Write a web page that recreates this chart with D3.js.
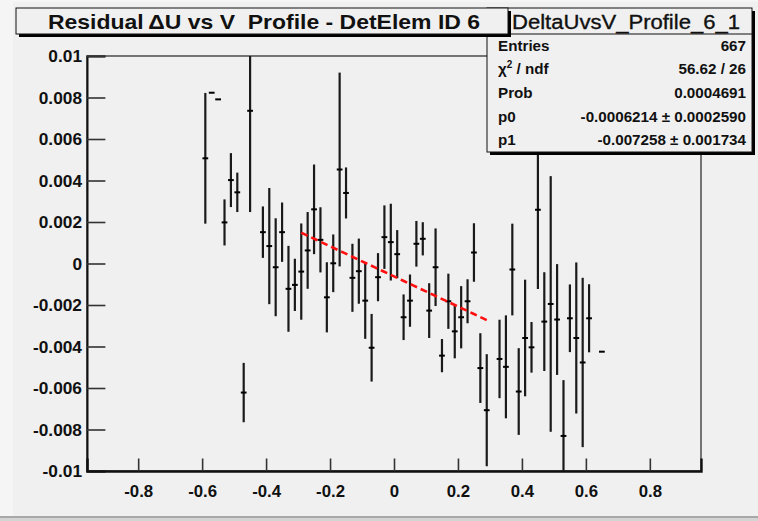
<!DOCTYPE html>
<html><head><meta charset="utf-8">
<script src="https://cdn.jsdelivr.net/npm/d3@7"></script>
<style>
html,body{margin:0;padding:0;background:#f0f0f0;}
svg{display:block;font-family:"Liberation Sans",Arial,Helvetica,sans-serif;}
</style></head>
<body>
<script>
// ---- data (bin centres, profile means, errors) ----
const binCenters = [-0.59,-0.57,-0.55,-0.53,-0.51,-0.49,-0.47,-0.45,-0.41,-0.39,-0.37,-0.35,-0.33,-0.31,-0.29,-0.27,-0.25,-0.23,-0.21,-0.19,-0.17,-0.15,-0.13,-0.11,-0.09,-0.07,-0.05,-0.03,-0.01,0.01,0.03,0.05,0.07,0.09,0.11,0.13,0.15,0.17,0.19,0.21,0.23,0.25,0.27,0.29,0.33,0.35,0.37,0.39,0.41,0.43,0.45,0.47,0.49,0.51,0.53,0.55,0.57,0.59,0.61,0.65];
const meanValues = [0.00507,0.00823,0.00791,0.00198,0.00402,0.00343,-0.00622,0.00736,0.00151,0.00084,-0.00018,0.00151,-0.00122,-0.00103,-0.00039,0.00063,0.00261,0.00114,-0.00163,0.00001,0.00453,0.0034,-0.00069,-0.00037,-0.00179,-0.00406,-0.00066,0.00127,0.00103,0.00045,-0.00259,-0.00179,0.00095,0.00119,-0.00227,-0.00018,-0.00444,-0.00182,-0.00327,-0.00259,-0.00182,0.00053,-0.00504,-0.00707,-0.0046,-0.00498,-0.00029,-0.00617,-0.00359,-0.00404,0.00259,-0.0028,-0.00195,-0.0027,-0.00831,-0.00264,-0.00359,-0.00477,-0.00264,-0.00425];
const errValues = [0.00315,0,0,0.00111,0.0013,0.00095,0.00143,0.00488,0.00124,0.0028,0.00236,0.00143,0.00207,0.00126,0.00232,0.00185,0.00216,0.00157,0.00169,0.00139,0.00467,0.00123,0.00164,0.00157,0.00184,0.00163,0.00116,0.00153,0.00185,0.00116,0.0011,0.00126,0.0011,0.0008,0.00132,0.00187,0.0008,0.00133,0.0013,0.0015,0.00106,0.00141,0.00168,0.0027,0.00189,0.00248,0.00221,0.00209,0.00281,0.00122,0.00382,0.00238,0.00616,0.00267,0.00269,0.00163,0.00364,0.00408,0.00164,0];
const binWidth = 0.02;
// fit: p0 + p1*x over [-0.29, 0.29]
const fitP0 = -0.0006214, fitP1 = -0.007258;
const fitRange = [-0.29, 0.29];

const xTickValues = [-0.8,-0.6,-0.4,-0.2,0,0.2,0.4,0.6,0.8];
const xTickLabels = ["-0.8","-0.6","-0.4","-0.2","0","0.2","0.4","0.6","0.8"];
const yTickValues = [0.01,0.008,0.006,0.004,0.002,0,-0.002,-0.004,-0.006,-0.008,-0.01];
const yTickLabels = ["0.01","0.008","0.006","0.004","0.002","0","-0.002","-0.004","-0.006","-0.008","-0.01"];

const titleText = "Residual\u2009\u0394U vs V  Profile - DetElem ID 6";
const statsTitle = "DeltaUvsV_Profile_6_1";
const statsLabels = ["Entries","chi2","Prob","p0","p1"];
const statsValues = ["667","56.62 / 26","0.0004691","-0.0006214 \u00b1 0.0002590","-0.007258 \u00b1 0.001734"];

// ---- drawing ----
const W = 758, H = 521;
const svg = d3.select("body").append("svg").attr("width", W).attr("height", H);

svg.append("rect").attr("x",0).attr("y",0).attr("width",W).attr("height",H).attr("fill","#f5f5f5");
svg.append("rect").attr("x",13).attr("y",2).attr("width",W-13).attr("height",514).attr("fill","#f0f0f0");
svg.append("rect").attr("x",0).attr("y",516).attr("width",W).attr("height",2).attr("fill","#a8a8a8");
svg.append("rect").attr("x",0).attr("y",518).attr("width",W).attr("height",3).attr("fill","#d4d4d4");

const x = d3.scaleLinear().domain([-0.96, 0.96]).range([87, 701]);
const y = d3.scaleLinear().domain([-0.01, 0.01]).range([471, 56]);

svg.append("clipPath").attr("id","plotclip").append("rect")
  .attr("x",87).attr("y",56).attr("width",614).attr("height",415);

// frame
svg.append("rect").attr("x",87).attr("y",56).attr("width",614).attr("height",415)
  .attr("fill","none").attr("stroke","#222").attr("stroke-width",1.2);

// axes
const fmtY = d => yTickLabels[yTickValues.indexOf(d)];
const fmtX = d => xTickLabels[xTickValues.indexOf(d)];
const yMinor = d3.range(-0.01, 0.01001, 0.0005).map(v => +v.toFixed(5));
const xMinor = d3.range(-0.95, 0.9501, 0.05).map(v => +v.toFixed(3));

const gy = svg.append("g").attr("transform","translate(87,0)");
gy.call(d3.axisLeft(y).tickValues(yMinor).tickSize(-9).tickFormat(""));
gy.call(d3.axisLeft(y).tickValues(yTickValues).tickSize(-18.4).tickPadding(5).tickFormat(fmtY));
gy.selectAll("path.domain").attr("stroke","#111").attr("stroke-width",2);
gy.selectAll("line").attr("stroke","#333").attr("stroke-width",1.6);
gy.selectAll("text").attr("font-size",17.3).attr("font-weight","bold").attr("fill","#111");

const gx = svg.append("g").attr("transform","translate(0,471)");
gx.call(d3.axisBottom(x).tickValues(xMinor).tickSize(-6.3).tickFormat(""));
gx.call(d3.axisBottom(x).tickValues(xTickValues).tickSize(-12.5).tickPadding(14).tickFormat(fmtX));
gx.selectAll("path.domain").attr("stroke","#111").attr("stroke-width",2.4);
gx.selectAll("line").attr("stroke","#333").attr("stroke-width",1.6);
gx.selectAll("text").attr("font-size",16.8).attr("font-weight","bold").attr("fill","#111");

// data
const data = binCenters.map((c,i)=>({x:c, m:meanValues[i], e:errValues[i]}));
const gd = svg.append("g").attr("clip-path","url(#plotclip)");
gd.selectAll("line.err").data(data.filter(d=>d.e>0)).join("line").attr("class","err")
  .attr("x1",d=>x(d.x)).attr("x2",d=>x(d.x))
  .attr("y1",d=>y(d.m+d.e)).attr("y2",d=>y(d.m-d.e))
  .attr("stroke","#1a1a1a").attr("stroke-width",2.2);
gd.selectAll("line.mk").data(data).join("line").attr("class","mk")
  .attr("x1",d=>x(d.x-binWidth*0.45)).attr("x2",d=>x(d.x+binWidth*0.45))
  .attr("y1",d=>y(d.m)).attr("y2",d=>y(d.m))
  .attr("stroke","#000").attr("stroke-width",2);

// fit line
const fitPts = d3.range(0, 41).map(i => {
  const xv = fitRange[0] + (fitRange[1]-fitRange[0])*i/40;
  return [xv, fitP0 + fitP1*xv];
});
gd.append("path").attr("d", d3.line().x(d=>x(d[0])).y(d=>y(d[1]))(fitPts))
  .attr("fill","none").attr("stroke","#ff1010").attr("stroke-width",2.6)
  .attr("stroke-dasharray","7,4");

// stats box
const sx = 487, sy = 8, sw = 265, sh = 144;
svg.append("rect").attr("x",sx+3).attr("y",sy+3).attr("width",sw).attr("height",sh).attr("fill","#000");
svg.append("rect").attr("x",sx).attr("y",sy).attr("width",sw).attr("height",sh)
  .attr("fill","#f0f0f0").attr("stroke","#111").attr("stroke-width",1);
svg.append("line").attr("x1",sx).attr("x2",sx+sw).attr("y1",34).attr("y2",34).attr("stroke","#111").attr("stroke-width",1);
svg.append("text").attr("x",512).attr("y",29)
  .attr("font-size",20.5).attr("fill","#111").attr("stroke","#111").attr("stroke-width",0.35)
  .attr("textLength",228).attr("lengthAdjust","spacingAndGlyphs").text(statsTitle);
const rowH = (sy+sh-34)/5;
statsLabels.forEach((lab,i)=>{
  const ty = 34 + rowH*(i+0.5) + 5;
  const t = svg.append("text").attr("x",498).attr("y",ty).attr("font-size",15.2).attr("font-weight","bold").attr("fill","#111");
  if (lab === "chi2") {
    t.append("tspan").text("\u03c7");
    t.append("tspan").attr("dy",-6).attr("font-size",10).text("2");
    t.append("tspan").attr("dy",6).text(" / ndf");
  } else t.text(lab);
  svg.append("text").attr("x",746).attr("y",ty).attr("text-anchor","end")
    .attr("font-size",15.2).attr("font-weight","bold").attr("fill","#111").text(statsValues[i]);
});

// title box
const tx = 16, ty0 = 8, tw = 492, th = 26;
svg.append("rect").attr("x",tx+3).attr("y",ty0+3).attr("width",tw).attr("height",th).attr("fill","#000");
svg.append("rect").attr("x",tx).attr("y",ty0).attr("width",tw).attr("height",th)
  .attr("fill","#f0f0f0").attr("stroke","#111").attr("stroke-width",1);
svg.append("text").attr("x",48).attr("y",29)
  .attr("font-size",21).attr("font-weight","bold").attr("fill","#111")
  .attr("textLength",432).attr("lengthAdjust","spacingAndGlyphs")
  .style("white-space","pre").text(titleText);
</script>
</body></html>
